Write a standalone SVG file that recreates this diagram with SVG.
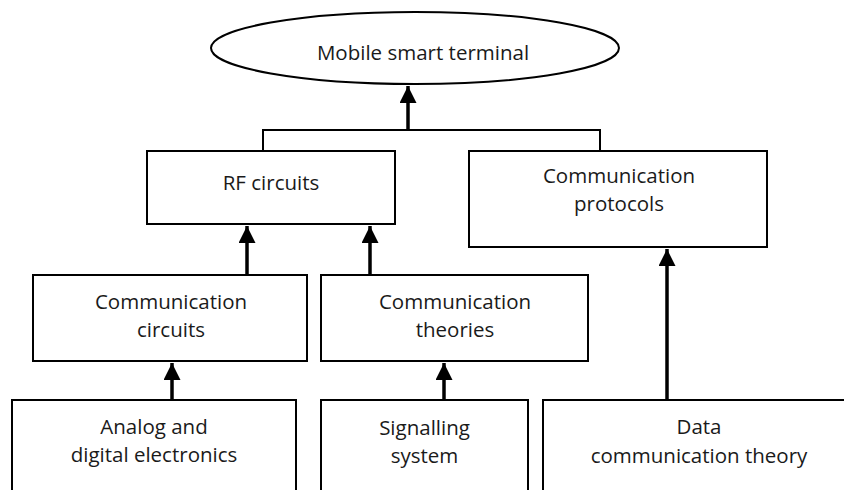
<svg xmlns="http://www.w3.org/2000/svg" width="844" height="490" viewBox="0 0 844 490">
<defs>
<style>
.box{fill:#fff;stroke:#000;stroke-width:2}
.t{font-family:"Open Sans","Liberation Sans",sans-serif;font-size:20.5px;fill:#1a1a1a;text-anchor:middle}
.ln{fill:none;stroke:#000;stroke-width:2}
.ar{fill:none;stroke:#000;stroke-width:3.5;marker-end:url(#ah)}
</style>
<marker id="ah" markerUnits="userSpaceOnUse" markerWidth="17" markerHeight="17" viewBox="0 0 17 17" refX="17" refY="8.5" orient="auto">
<path d="M0,0 L17,8.5 L0,17 z" fill="#000"/>
</marker>
</defs>
<g id="connectors">
<polyline class="ln" points="263,151 263,130 600,130 600,151"/>
<line class="ar" x1="408" y1="130" x2="408" y2="86"/>
<line class="ar" x1="247" y1="275" x2="247" y2="226"/>
<line class="ar" x1="370" y1="275" x2="370" y2="226"/>
<line class="ar" x1="172" y1="400" x2="172" y2="363"/>
<line class="ar" x1="444" y1="400" x2="444" y2="363"/>
<line class="ar" x1="667" y1="400" x2="667" y2="249"/>
</g>
<g id="mobile">
<ellipse class="box" cx="415" cy="48" rx="204" ry="36"/>
<text class="t" x="423" y="60">Mobile smart terminal</text>
</g>
<g id="rf">
<rect class="box" x="147" y="151" width="248" height="73"/>
<text class="t" x="271" y="190">RF circuits</text>
</g>
<g id="protocols">
<rect class="box" x="469" y="151" width="298" height="96"/>
<text class="t" x="619" y="183">Communication</text>
<text class="t" x="619" y="211">protocols</text>
</g>
<g id="circuits">
<rect class="box" x="33" y="275" width="274" height="86"/>
<text class="t" x="171" y="309">Communication</text>
<text class="t" x="171" y="337">circuits</text>
</g>
<g id="theories">
<rect class="box" x="321" y="275" width="267" height="86"/>
<text class="t" x="455" y="309">Communication</text>
<text class="t" x="455" y="337">theories</text>
</g>
<g id="analog">
<rect class="box" x="12" y="400" width="284" height="100"/>
<text class="t" x="154" y="434">Analog and</text>
<text class="t" x="154" y="462">digital electronics</text>
</g>
<g id="signalling">
<rect class="box" x="321" y="400" width="207" height="100"/>
<text class="t" x="424.5" y="435">Signalling</text>
<text class="t" x="424.5" y="463">system</text>
</g>
<g id="data">
<rect class="box" x="543" y="400" width="313" height="100"/>
<text class="t" x="699" y="434">Data</text>
<text class="t" x="699" y="463">communication theory</text>
</g>
</svg>
